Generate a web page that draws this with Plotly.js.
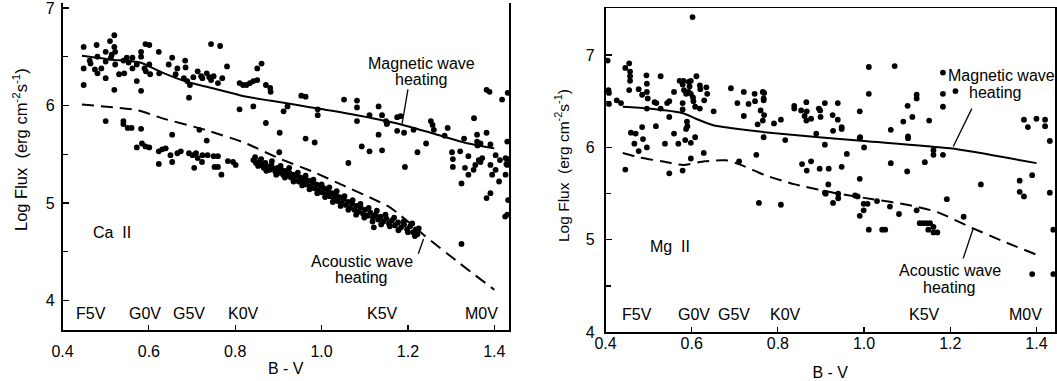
<!DOCTYPE html>
<html>
<head>
<meta charset="utf-8">
<script src="https://cdn.plot.ly/plotly-3.0.1.min.js"></script>
<style>html,body{margin:0;padding:0;background:#fff;} #chart{width:1057px;height:381px;}</style>
</head>
<body>
<div id="chart"></div>
<script>
// ---------------- Ca II panel (left) ----------------
const caUpperX = [0.449,0.449,0.449,0.463,0.465,0.475,0.479,0.481,0.481,0.490,0.500,0.500,0.500,0.510,0.512,0.514,0.520,0.520,0.522,0.522,0.520,0.531,0.541,0.543,0.549,0.553,0.562,0.562,0.572,0.572,0.582,0.582,0.582,0.590,0.592,0.593,0.601,0.601,0.603,0.623,0.624,0.646,0.654,0.666,0.662,0.681,0.684,0.685,0.689,0.693,0.695,0.703,0.713,0.721,0.724,0.734,0.740,0.744,
  0.765,0.744,0.750,0.760,0.770,0.781,0.810,0.818,0.826,0.834,0.842,0.851,0.851,0.861,0.871,0.881,0.882,0.953,0.963,1.052,0.810,0.842,0.912,0.921,0.991,0.991,0.871,0.903,0.963,0.984,0.902,1.062,
  1.082,1.082,1.082,1.093,1.111,1.140,1.111,1.132,1.132,1.152,1.175,1.183,1.175,1.191,1.213,1.193,1.222,1.242,1.253,1.257,1.260,1.285,1.292,1.302,1.304,1.304,1.324,1.324,1.353,
  1.140,1.149,1.151,1.330,1.332,1.340,1.340,1.352,1.356,1.360,1.360,1.361,1.364,1.368,1.368,1.372,1.382,1.382,1.391,1.391,1.391,1.395,1.403,1.403,1.411,1.413,1.382,1.389,1.431,1.430,1.426,1.430,1.426,1.321,1.430,1.428,1.432,1.425,1.430,1.418];
const caUpperY = [6.60,6.38,6.21,6.46,6.43,6.37,6.62,6.50,6.33,6.38,6.45,6.55,6.28,6.66,6.49,6.52,6.72,6.60,6.55,6.42,6.16,6.32,6.46,6.33,6.49,6.44,6.38,6.49,6.42,6.25,6.55,6.50,6.15,6.38,6.63,6.35,6.62,6.42,6.32,6.55,6.33,6.42,6.49,6.38,6.32,6.28,6.46,6.39,6.25,6.08,6.21,6.29,6.35,6.30,6.28,6.33,6.29,6.63,
  6.61,6.26,6.30,6.23,6.28,6.40,6.23,6.21,6.21,6.23,6.25,6.26,6.38,6.43,6.21,6.18,6.14,6.10,6.09,6.06,5.96,5.99,5.94,5.99,5.96,5.90,5.82,5.72,5.66,5.62,5.52,5.41,
  6.05,5.98,5.84,5.58,5.53,5.54,5.90,5.99,5.70,5.82,5.88,5.89,5.74,5.72,5.75,5.37,5.52,5.61,5.84,5.80,5.75,5.69,5.77,5.52,5.45,5.37,5.20,4.58,5.87,
  5.90,5.84,5.81,5.66,5.36,5.48,5.29,5.34,5.39,5.70,5.63,5.59,5.44,5.61,5.42,5.46,5.72,5.05,5.60,5.10,5.39,5.29,5.49,5.34,5.22,5.44,6.16,6.14,6.13,5.63,5.46,5.39,5.29,5.53,5.45,5.40,5.03,4.86,4.88,6.06];
const caLowerX = [0.500,0.541,0.541,0.551,0.560,0.582,0.572,0.584,0.592,0.601,0.623,0.631,0.639,0.623,0.650,0.654,0.654,0.666,0.674,0.693,0.701,0.705,0.709,0.713,0.717,0.723,0.724,0.734,0.736,0.750,0.760,0.752,0.760,0.783,0.795,0.801,0.768,1.121];
const caLowerY = [5.84,5.84,5.81,5.77,5.77,5.76,5.57,5.61,5.58,5.57,5.53,5.55,5.56,5.40,5.49,5.70,5.42,5.51,5.53,5.51,5.49,5.36,5.51,5.46,5.75,5.42,5.49,5.64,5.49,5.48,5.48,5.37,5.37,5.43,5.42,5.39,5.29,4.75];
// dense K-dwarf band (two interleaved readings of the same cluster)
const caBandX = [0.842,0.848,0.853,0.857,0.862,0.866,0.870,0.875,0.880,0.884,0.889,0.893,0.898,0.902,0.907,0.911,0.916,0.920,0.925,0.929,0.934,0.938,0.943,0.947,0.952,0.956,0.961,0.965,0.970,0.974,0.979,0.983,0.988,0.992,0.997,1.001,1.006,1.010,1.015,1.019,1.024,1.028,1.033,1.037,1.042,1.046,1.051,1.056,1.061,1.066,1.071,1.076,1.081,1.086,1.091,1.096,1.101,1.107,1.113,1.119,1.125,1.131,1.137,1.143,1.150,1.156,1.163,1.170,1.177,1.184,1.191,1.198,1.205,1.212,1.218,1.222];
const caBandY = [5.44,5.41,5.38,5.43,5.39,5.36,5.41,5.37,5.34,5.39,5.35,5.32,5.36,5.31,5.34,5.29,5.33,5.28,5.31,5.26,5.29,5.24,5.28,5.22,5.26,5.21,5.24,5.19,5.23,5.17,5.21,5.15,5.19,5.13,5.17,5.11,5.15,5.09,5.12,5.07,5.10,5.04,5.08,5.02,5.06,5.00,5.04,4.98,5.01,4.95,4.99,4.93,4.97,4.91,4.95,4.89,4.93,4.87,4.90,4.85,4.88,4.83,4.86,4.81,4.84,4.79,4.82,4.77,4.80,4.75,4.78,4.73,4.76,4.70,4.73,4.68];
const caBand2X = [0.846,0.860,0.872,0.885,0.895,0.905,0.915,0.925,0.935,0.945,0.955,0.963,0.972,0.981,0.990,1.000,1.008,1.018,1.026,1.035,1.044,1.053,1.062,1.072,1.080,1.090,1.099,1.109,1.118,1.128,1.138,1.148,1.158,1.168,1.178,1.190,1.200,1.210,1.216,1.225];
const caBand2Y = [5.47,5.45,5.33,5.43,5.29,5.38,5.26,5.36,5.22,5.31,5.18,5.28,5.14,5.24,5.10,5.19,5.06,5.16,5.01,5.12,4.97,5.07,4.93,5.03,4.88,4.99,4.85,4.95,4.81,4.92,4.78,4.88,4.76,4.85,4.72,4.81,4.70,4.79,4.66,4.74];
const caMagX = [0.445,0.515,0.58,0.63,0.69,0.745,0.815,0.88,0.95,1.07,1.18,1.26,1.34,1.40];
const caMagY = [6.51,6.47,6.44,6.34,6.24,6.18,6.10,6.05,6.00,5.91,5.81,5.71,5.61,5.56];
const caAcX = [0.445,0.575,0.63,0.73,0.82,0.90,0.98,1.05,1.12,1.16,1.24,1.32,1.40];
const caAcY = [6.01,5.95,5.87,5.75,5.62,5.46,5.32,5.18,5.04,4.95,4.66,4.38,4.11];

// ---------------- Mg II panel (right) ----------------
const mgX = [0.405,0.407,0.408,0.408,0.426,0.436,0.446,0.455,0.457,0.457,0.457,0.455,0.477,0.485,0.495,0.496,0.496,0.498,0.496,0.514,0.518,0.528,0.528,0.543,0.548,0.548,0.559,0.572,0.581,0.579,0.582,0.579,0.579,0.587,0.593,0.593,0.595,0.598,0.598,0.603,0.604,0.611,0.608,0.619,0.620,0.619,0.629,0.634,0.636,0.651,0.691,0.721,0.706,0.721,0.732,0.746,0.747,0.760,0.753,0.768,0.768,
  0.459,0.470,0.485,0.487,0.467,0.477,0.496,0.517,0.538,0.559,0.569,0.587,0.590,0.585,0.598,0.608,0.598,0.628,0.446,0.548,0.579,0.710,0.750,0.589,0.602,
  0.765,0.767,0.767,0.765,0.767,0.791,0.807,0.817,0.838,0.838,0.854,0.866,0.867,0.862,0.866,0.877,0.889,0.895,0.898,0.899,0.909,0.909,0.927,0.928,0.939,0.939,0.948,0.948,0.990,0.990,0.991,1.000,1.011,1.011,1.071,1.062,1.091,1.101,1.102,1.102,
  0.960,0.856,0.877,0.867,0.897,0.918,0.948,1.062,0.990,0.917,0.909,0.911,0.940,0.940,0.928,0.979,0.985,0.999,1.008,1.030,0.999,0.990,1.060,1.081,0.756,0.807,1.011,1.042,1.049,
  1.112,1.122,1.122,1.151,1.183,1.183,1.183,1.212,1.161,1.183,1.161,1.141,1.100,1.122,1.129,1.137,1.145,1.153,1.149,1.161,1.170,1.161,1.192,1.231,1.271,
  1.361,1.361,1.371,1.371,1.380,1.390,1.400,1.420,1.420,1.431,1.431,1.439,1.390,1.439];
const mgY = [6.94,6.62,6.59,6.47,6.51,6.48,6.86,6.91,6.82,6.77,6.72,6.62,6.63,6.57,6.78,6.69,6.60,6.53,6.42,6.49,6.48,6.77,6.42,6.48,6.50,6.33,6.60,6.72,6.72,6.68,6.62,6.48,6.41,6.58,6.71,6.60,6.66,6.58,6.72,6.54,6.50,6.77,6.44,6.67,6.63,6.42,6.51,6.65,6.58,6.39,6.64,6.60,6.48,6.34,6.47,6.58,6.50,6.40,6.25,6.59,6.35,
  6.16,6.15,6.22,6.09,6.04,5.96,6.00,6.23,6.04,6.15,6.04,6.20,6.23,6.08,6.05,6.11,5.88,5.94,5.76,5.72,5.75,5.85,5.92,6.28,7.41,
  6.60,6.53,6.51,6.29,6.11,6.26,6.30,6.08,6.45,6.42,6.40,6.49,6.39,6.34,6.29,6.31,6.15,6.42,6.40,6.33,6.48,6.03,6.35,6.18,6.48,6.30,6.22,6.20,6.39,6.10,6.11,6.00,6.87,6.58,6.88,6.19,6.28,6.45,6.12,6.10,
  5.93,5.82,5.85,5.75,5.77,5.77,5.79,5.83,5.66,5.60,5.51,5.50,5.50,5.45,5.40,5.48,5.47,5.39,5.39,5.42,5.32,5.26,5.36,5.28,5.40,5.38,5.11,5.11,5.11,
  6.33,6.57,6.53,6.29,6.81,6.58,6.44,6.61,5.92,5.92,5.97,5.84,5.74,5.32,5.18,5.18,5.18,5.18,5.11,5.08,5.08,5.14,5.44,5.25,5.60,
  5.64,5.52,5.47,6.30,6.22,5.70,6.31,6.30,6.23,6.07,5.51,5.11,4.63,4.63];
const mgMagX = [0.44,0.50,0.58,0.61,0.65,0.69,0.80,1.00,1.20,1.40];
const mgMagY = [6.44,6.42,6.37,6.31,6.24,6.21,6.15,6.07,5.99,5.83];
const mgAcX = [0.44,0.48,0.53,0.58,0.63,0.68,0.72,0.77,0.84,0.94,1.02,1.10,1.17,1.25,1.32,1.40];
const mgAcY = [5.94,5.89,5.85,5.81,5.85,5.86,5.80,5.70,5.60,5.50,5.44,5.38,5.30,5.13,4.99,4.84];

// ---------------- labels ----------------
const spectralTypes = ['F5V','G0V','G5V','K0V','K5V','M0V'];
const caSpecX = [0.466,0.590,0.694,0.820,1.140,1.370];
const caSpecY = 3.87;
const mgSpecX = [0.473,0.605,0.697,0.817,1.140,1.375];
const mgSpecY = 4.19;
const xTickVals = [0.4,0.6,0.8,1.0,1.2,1.4];
const xTickText = ['0.4','0.6','0.8','1.0','1.2','1.4'];
const yTickVals = [4,5,6,7];
const yMinorVals = [4.5,5.5,6.5];
const yTitle = 'Log Flux  (erg cm<sup>-2</sup>s<sup>-1</sup>)';
const xTitle = 'B - V';
// label positions [x, y] in data units
const caLabels = {mag1:[1.231,6.43], mag2:[1.231,6.27], ac1:[1.093,4.40], ac2:[1.093,4.24], ion:[0.515,4.70]};
const caLeaders = {mag:[1.200,6.165,1.186,5.80], ac:[1.224,4.48,1.236,4.63]};
const mgLabels = {mag1:[1.32,6.78], mag2:[1.304,6.59], ac1:[1.199,4.67], ac2:[1.199,4.49], ion:[0.55,4.93]};
const mgLeaders = {mag:[1.250,6.42,1.207,6.01], ac:[1.230,4.80,1.253,5.12]};

const black = '#000';
const mk = {size:5.8, color:black, opacity:1, line:{width:0}};
const traces = [
  {x:caUpperX.concat(caLowerX, caBandX, caBand2X), y:caUpperY.concat(caLowerY, caBandY, caBand2Y), mode:'markers', type:'scatter', marker:mk, xaxis:'x', yaxis:'y'},
  {x:caMagX, y:caMagY, mode:'lines', line:{color:black, width:2, shape:'spline', smoothing:0.6}, xaxis:'x', yaxis:'y'},
  {x:caAcX, y:caAcY, mode:'lines', line:{color:black, width:2, dash:'12px,7px', shape:'spline', smoothing:0.6}, xaxis:'x', yaxis:'y'},
  {x:mgX, y:mgY, mode:'markers', type:'scatter', marker:mk, xaxis:'x2', yaxis:'y2'},
  {x:mgMagX, y:mgMagY, mode:'lines', line:{color:black, width:2, shape:'spline', smoothing:0.6}, xaxis:'x2', yaxis:'y2'},
  {x:mgAcX, y:mgAcY, mode:'lines', line:{color:black, width:2, dash:'12px,7px', shape:'spline', smoothing:0.6}, xaxis:'x2', yaxis:'y2'}
];

function ann(pos, text, xr, yr, xanchor) {
  return {x:pos[0], y:pos[1], xref:xr, yref:yr, text:text, showarrow:false, xanchor:xanchor||'center', yanchor:'middle', font:{size:16, color:black}};
}
const annotations = [
  ann(caLabels.mag1,'Magnetic wave','x','y'), ann(caLabels.mag2,'heating','x','y'),
  ann(caLabels.ac1,'Acoustic wave','x','y'), ann(caLabels.ac2,'heating','x','y'),
  ann(caLabels.ion,'Ca&nbsp;&nbsp;II','x','y'),
  ann(mgLabels.mag1,'Magnetic wave','x2','y2'), ann(mgLabels.mag2,'heating','x2','y2'),
  ann(mgLabels.ac1,'Acoustic wave','x2','y2'), ann(mgLabels.ac2,'heating','x2','y2'),
  ann(mgLabels.ion,'Mg&nbsp;&nbsp;II','x2','y2'),
  // y-axis titles (placed as rotated paper annotations to match the original offset)
  {x:20/1057, y:1-150/381, xref:'paper', yref:'paper', text:yTitle, textangle:-90, showarrow:false, xanchor:'center', yanchor:'middle', font:{size:16.5, color:black}},
  {x:562/1057, y:1-166/381, xref:'paper', yref:'paper', text:yTitle, textangle:-90, showarrow:false, xanchor:'center', yanchor:'middle', font:{size:15.5, color:black}}
];
spectralTypes.forEach((s,i)=>{
  annotations.push(ann([caSpecX[i], caSpecY], s, 'x','y'));
  annotations.push(ann([mgSpecX[i], mgSpecY], s, 'x2','y2'));
});
function leader(p, xr, yr){ return {type:'line', xref:xr, yref:yr, x0:p[0], y0:p[1], x1:p[2], y1:p[3], line:{color:black, width:1.3}}; }
const shapes = [leader(caLeaders.mag,'x','y'), leader(caLeaders.ac,'x','y'), leader(mgLeaders.mag,'x2','y2'), leader(mgLeaders.ac,'x2','y2')];

function xax(domain, range, mirror, standoff, titleStandoff) {
  return {domain:domain, range:range, tickvals:xTickVals, ticktext:xTickText, ticks:'inside', ticklen:5, tickwidth:1.2, tickcolor:black,
    showline:true, linecolor:black, linewidth:1.6, mirror:mirror, showgrid:false, zeroline:false, ticklabelstandoff:standoff, ticklabeloverflow:'allow',
    tickfont:{size:16, color:black}, title:{text:xTitle, font:{size:16, color:black}, standoff:titleStandoff}};
}
function yax(domain, range, anchor, standoff) {
  return {domain:domain, range:range, anchor:anchor, tickvals:yTickVals, ticks:'inside', ticklen:6, tickwidth:1.2, tickcolor:black,
    minor:{tickvals:yMinorVals, ticks:'inside', ticklen:5, tickcolor:black},
    showline:true, linecolor:black, linewidth:1.6, mirror:true, showgrid:false, zeroline:false, ticklabelstandoff:standoff, ticklabeloverflow:'allow',
    tickfont:{size:16, color:black}};
}
const W = 1057, H = 381;
const layout = {
  width:W, height:H, margin:{l:0, r:0, t:0, b:0}, showlegend:false,
  paper_bgcolor:'#fff', plot_bgcolor:'#fff',
  font:{family:'"Liberation Sans", Arial, sans-serif', size:16, color:black},
  xaxis: Object.assign(xax([62.5/W, 509/W], [0.4, 1.434], false, 6, 4), {anchor:'y'}),
  yaxis: yax([1-330/H, 1-3/H], [3.697, 7.051], 'x', 3),
  xaxis2: Object.assign(xax([605.5/W, 1055/W], [0.4, 1.443], true, -4, 24), {anchor:'y2'}),
  yaxis2: yax([1-332.3/H, 1-8.3/H], [4.0, 7.505], 'x2', 6),
  annotations: annotations,
  shapes: shapes
};
Plotly.newPlot('chart', traces, layout, {staticPlot:true, displayModeBar:false});
</script>
</body>
</html>
